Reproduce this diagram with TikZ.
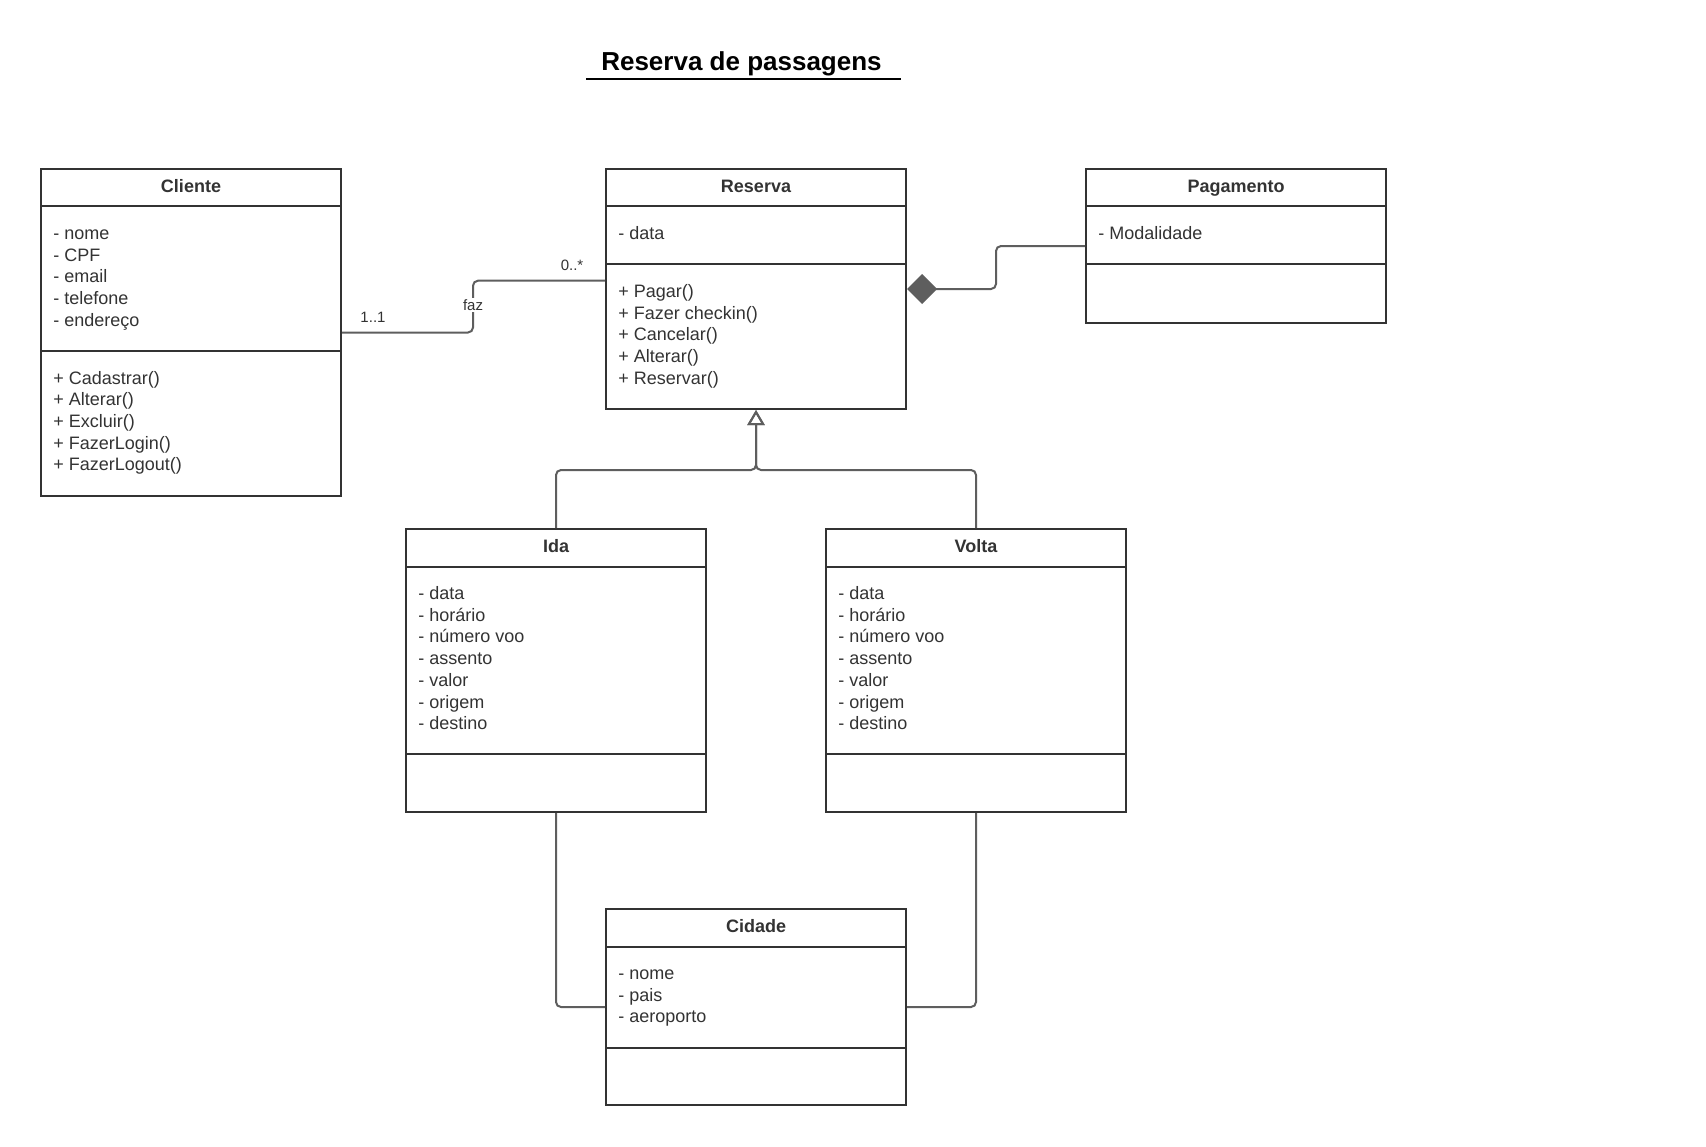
\documentclass[tikz,border=0pt]{standalone}
\usepackage{fontspec}
\setmainfont{Liberation Sans}
\usetikzlibrary{arrows.meta,calc}
\definecolor{boxcol}{HTML}{333333}
\definecolor{txtcol}{HTML}{333333}
\definecolor{conncol}{HTML}{5E5E5E}
\begin{document}
\begin{tikzpicture}[x=0.5pt,y=-0.5pt,
  classbox/.style={draw=boxcol, line width=1pt, fill=white, rectangle, minimum width=150pt, inner sep=0pt},
  divider/.style={draw=boxcol, line width=1pt},
  cname/.style={font=\bfseries\fontsize{9}{10.8}\selectfont, text=txtcol, text height=6.5pt, text depth=0pt, inner sep=0pt},
  attr/.style={font=\fontsize{9}{10.8}\selectfont, text=txtcol, anchor=west, text height=6.5pt, text depth=0pt, inner sep=0pt},
  conn/.style={draw=conncol, line width=1pt, rounded corners=2.5pt},
  mult/.style={font=\fontsize{7.5}{9}\selectfont, text=txtcol, text height=5.4pt, text depth=0pt, inner sep=1pt},
  titlestyle/.style={font=\bfseries\fontsize{13}{15}\selectfont, text=black, text height=9.4pt, text depth=0pt, inner sep=0pt}
]
\fill[white] (0,0) rectangle (1706,1146);
\useasboundingbox (0,0) rectangle (1706,1146);

% title
\node[titlestyle] (title) at (741.5,61) {Reserva de passagens};
\draw[line width=1pt, black] (586,79) -- (901,79);

% boxes
\node[classbox, minimum height=163.5pt] (cliente) at (191,332.5) {};
\node[classbox, minimum height=120pt] (reserva) at (756,289) {};
\node[classbox, minimum height=77pt] (pagamento) at (1236,246) {};
\node[classbox, minimum height=141.5pt] (ida) at (556,670.5) {};
\node[classbox, minimum height=141.5pt] (volta) at (976,670.5) {};
\node[classbox, minimum height=98pt] (cidade) at (756,1007) {};

% dividers
\draw[divider] (41,206) -- (341,206);
\draw[divider] (41,351) -- (341,351);
\draw[divider] (606,206) -- (906,206);
\draw[divider] (606,264) -- (906,264);
\draw[divider] (1086,206) -- (1386,206);
\draw[divider] (1086,264) -- (1386,264);
\draw[divider] (406,567) -- (706,567);
\draw[divider] (406,754) -- (706,754);
\draw[divider] (826,567) -- (1126,567);
\draw[divider] (826,754) -- (1126,754);
\draw[divider] (606,947) -- (906,947);
\draw[divider] (606,1048) -- (906,1048);

% class names
\node[cname] (cliente-n) at (191,186) {Cliente};
\node[cname] (reserva-n) at (756,186) {Reserva};
\node[cname] (pagamento-n) at (1236,186) {Pagamento};
\node[cname] (ida-n) at (556,546) {Ida};
\node[cname] (volta-n) at (976,546) {Volta};
\node[cname] (cidade-n) at (756,925.5) {Cidade};

% members
\foreach \t [count=\i] in {- nome, - CPF, - email, - telefone, - endereço}
  \node[attr] (cli-a\i) at (53,{233+21.7*(\i-1)}) {\t};
\foreach \t [count=\i] in {+ Cadastrar(), + Alterar(), + Excluir(), + FazerLogin(), + FazerLogout()}
  \node[attr] (cli-m\i) at (53,{377.5+21.7*(\i-1)}) {\t};
\node[attr] (res-a1) at (618,233) {- data};
\foreach \t [count=\i] in {+ Pagar(), + Fazer checkin(), + Cancelar(), + Alterar(), + Reservar()}
  \node[attr] (res-m\i) at (618,{291+21.7*(\i-1)}) {\t};
\node[attr] (pag-a1) at (1098,233) {- Modalidade};
\foreach \t [count=\i] in {- data, - horário, - número voo, - assento, - valor, - origem, - destino}
  \node[attr] (ida-a\i) at (418,{593+21.7*(\i-1)}) {\t};
\foreach \t [count=\i] in {- data, - horário, - número voo, - assento, - valor, - origem, - destino}
  \node[attr] (vol-a\i) at (838,{593+21.7*(\i-1)}) {\t};
\foreach \t [count=\i] in {- nome, - pais, - aeroporto}
  \node[attr] (cid-a\i) at (618,{973+21.7*(\i-1)}) {\t};

% association Cliente - Reserva
\coordinate (fazpt) at (473,305);
\draw[conn] (cliente.east) -| (fazpt) |- ([yshift=4.15pt]reserva.west);
\node[mult, fill=white] (faz) at (fazpt) {faz};
\node[mult] (m11) at (373,316.6) {1..1};
\node[mult] (m0n) at (572,265.5) {0..*};

% composition Pagamento - Reserva
\coordinate (pm) at ($(reserva.east)!0.5!(pagamento.west)$);
\draw[conn, -{Diamond[length=15pt,width=15pt,fill=conncol]}] (pagamento.west) -| (pm) |- (reserva.east);

% generalization
\coordinate (gj) at ($(reserva.south)+(0,60)$);
\draw[conn, -{Triangle[open,length=7.5pt,width=8.5pt]}] (ida.north) |- (gj) -- (reserva.south);
\draw[conn, -{Triangle[open,length=7.5pt,width=8.5pt]}] (volta.north) |- (gj) -- (reserva.south);

% Ida/Volta - Cidade
\draw[conn] (ida.south) |- (cidade.west);
\draw[conn] (volta.south) |- (cidade.east);
\end{tikzpicture}
\end{document}
